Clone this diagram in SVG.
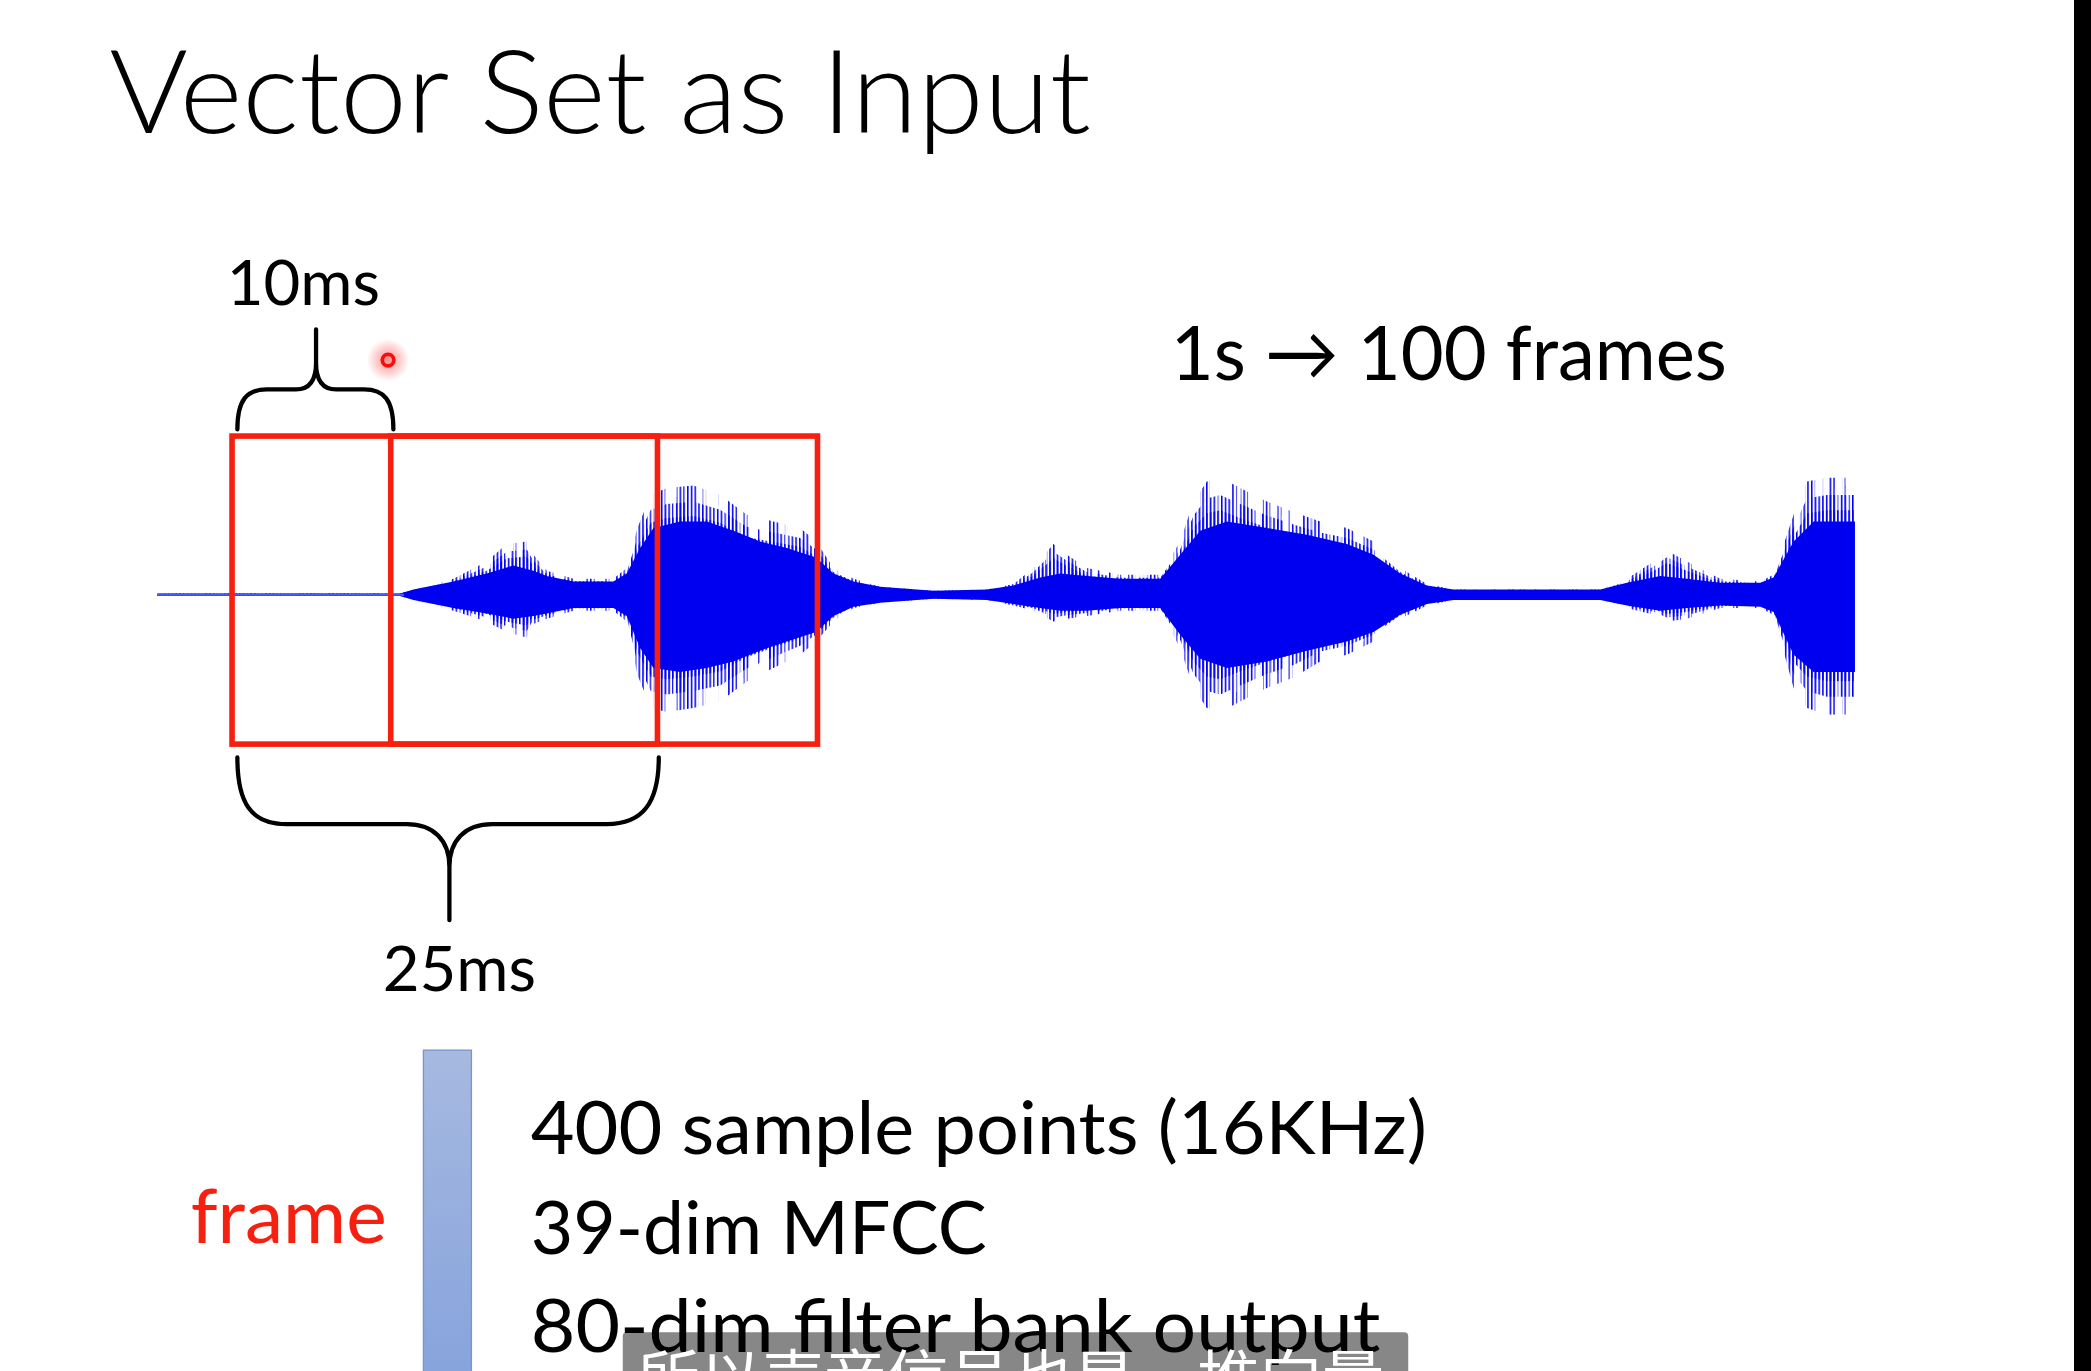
<svg xmlns="http://www.w3.org/2000/svg" width="2091" height="1371" viewBox="0 0 2091 1371">
<defs>
<style>
.t{font-family:Lato,"Liberation Sans",sans-serif;fill:#000}
.title{font-weight:300}
.brace{fill:none;stroke:#000;stroke-width:3.2;stroke-linecap:round;stroke-linejoin:round}
.frm{fill:none;stroke:#f5200f;stroke-width:4.2}
.wv{fill:#0000f0}
.zh{font-family:"Noto Sans CJK SC",sans-serif;fill:#fff}
</style>
<pattern id="spk" patternUnits="userSpaceOnUse" width="2.8" height="10">
<rect x="0" y="0" width="1.15" height="10" fill="#0000f0"/>
</pattern>
<path id="env" d="M118,445 L300,445 310,442 340,434 365,421 380,408 395,406 400,416 410,428 430,434 460,434 470,426 478,396 488,371 500,366 520,364 540,371 560,386 580,391 600,396 612,406 625,426 640,434 660,440 700,443 740,442 760,438 775,426 790,408 800,416 815,426 840,431 870,431 885,406 895,376 905,361 915,358 930,366 950,376 970,384 990,391 1010,396 1030,406 1050,426 1070,438 1090,442 1200,442 1220,434 1240,421 1250,413 1265,421 1290,434 1320,436 1330,431 1345,386 1355,361 1370,358 1391,358 L1391,536 1370,536 1355,531 1345,516 1330,461 1320,456 1290,456 1265,464 1250,466 1240,461 1220,456 1200,450 1090,450 1070,454 1050,464 1030,481 1010,491 990,496 970,508 950,516 930,526 915,534 905,531 895,516 885,486 870,458 840,458 815,462 800,464 790,466 775,458 760,454 740,450 700,449 660,452 640,456 625,466 612,481 600,491 580,501 560,511 540,526 520,531 500,534 488,531 478,506 470,466 460,458 430,458 410,464 400,468 395,478 380,474 365,466 340,458 310,450 300,447 118,447 Z"/>
<clipPath id="c100"><use href="#env"/></clipPath>
<clipPath id="c85"><use href="#env" transform="matrix(1 0 0 0.85 0 66.9)"/></clipPath>
<clipPath id="c72"><use href="#env" transform="matrix(1 0 0 0.72 0 124.9)"/></clipPath>
<filter id="n1" filterUnits="userSpaceOnUse" x="110" y="340" width="1290" height="210" color-interpolation-filters="sRGB">
<feTurbulence type="fractalNoise" baseFrequency="0.13 0.0001" numOctaves="1" seed="3" result="t"/>
<feColorMatrix in="t" type="matrix" values="0 0 0 0 0  0 0 0 0 0  0 0 0 0 0  25 0 0 0 -12.5" result="m"/>
<feComposite in="SourceGraphic" in2="m" operator="in"/>
</filter>
<filter id="n2" filterUnits="userSpaceOnUse" x="110" y="340" width="1290" height="210" color-interpolation-filters="sRGB">
<feTurbulence type="fractalNoise" baseFrequency="0.13 0.0001" numOctaves="1" seed="9" result="t"/>
<feColorMatrix in="t" type="matrix" values="0 0 0 0 0  0 0 0 0 0  0 0 0 0 0  25 0 0 0 -11" result="m"/>
<feComposite in="SourceGraphic" in2="m" operator="in"/>
</filter>
<radialGradient id="glow">
<stop offset="0" stop-color="#ff3030" stop-opacity="0.55"/>
<stop offset="1" stop-color="#ff3030" stop-opacity="0"/>
</radialGradient>
<linearGradient id="bar" x1="0" y1="0" x2="0" y2="1">
<stop offset="0" stop-color="#a6b9e0"/>
<stop offset="1" stop-color="#86a3dc"/>
</linearGradient>
</defs>
<rect width="2091" height="1371" fill="#fff"/>
<g transform="scale(1.33355)">
<g id="title"><text class="t title" x="82" y="100" font-size="88" textLength="736" lengthAdjust="spacingAndGlyphs">Vector Set as Input</text></g>
<g id="waveform">
<g clip-path="url(#c100)"><rect x="118" y="350" width="1274" height="190" fill="url(#spk)" filter="url(#n1)"/></g>
<g clip-path="url(#c85)"><rect x="118" y="350" width="1274" height="190" fill="url(#spk)" filter="url(#n2)"/></g>
<g clip-path="url(#c72)"><rect x="118" y="350" width="1274" height="190" fill="url(#spk)"/></g>
<path class="wv" d="M118,445 L300,445 310,442 340,436 365,430 385,424 400,428 410,432 430,436 460,436 470,430 480,411 490,396 510,391 530,391 550,398 570,406 590,411 612,418 625,430 640,436 660,440 700,443 740,442 760,439 780,433 795,430 815,432 840,434 870,434 885,416 900,398 920,391 950,396 980,401 1010,408 1030,416 1050,430 1070,439 1090,442 1200,442 1220,437 1245,432 1265,434 1290,437 1320,437 1330,433 1345,406 1360,391 1391,391 L1391,504 1360,504 1345,491 1330,459 1320,455 1290,454 1265,456 1245,458 1220,454 1200,450 1090,450 1070,453 1050,461 1030,474 1010,481 980,488 950,496 920,501 900,494 885,476 870,456 840,456 815,458 795,458 780,456 760,453 740,450 700,449 660,452 640,455 625,462 612,474 590,481 570,488 550,496 530,501 510,504 490,501 480,486 470,462 460,456 430,456 410,460 400,462 385,464 365,460 340,456 310,450 300,447 118,447 Z"/>
<rect x="118" y="445.2" width="185" height="1.6" fill="#4a5af5"/>
</g>
<g id="frame-1"><rect class="frm" x="174" y="327" width="319" height="231"/></g>
<g id="frame-2"><rect class="frm" x="293" y="327" width="320" height="231"/></g>
<g id="label-10ms"><text class="t" x="170" y="229" font-size="46" textLength="115" lengthAdjust="spacingAndGlyphs">10ms</text></g>
<g id="label-rate"><text class="t" x="878" y="285" font-size="57" textLength="417" lengthAdjust="spacingAndGlyphs">1s → 100 frames</text></g>
<g id="label-25ms"><text class="t" x="287" y="743" font-size="46" textLength="115" lengthAdjust="spacingAndGlyphs">25ms</text></g>
<g id="pointer">
<circle cx="291" cy="270" r="16" fill="url(#glow)"/>
<circle cx="291" cy="270" r="4.3" fill="none" stroke="#f01010" stroke-width="2.8"/>
</g>
<g id="connectors">
<path class="brace" d="M178,322 C178,300 185,292 200,292 L222,292 C232,292 237,285 237,272 L237,247 M237,272 C237,285 242,292 252,292 L273,292 C288,292 295,300 295,322"/>
<path class="brace" d="M178,568 C178,602 188,618 215,618 L305,618 C325,618 337,630 337,650 L337,690 M337,650 C337,630 349,618 369,618 L455,618 C482,618 494,602 494,568"/>
</g>
<g id="frame-label"><text class="t" x="143" y="932" font-size="56" style="fill:#f5200f" textLength="147" lengthAdjust="spacingAndGlyphs">frame</text></g>
<g id="feature-bar"><rect x="317.5" y="787.5" width="36" height="250" fill="url(#bar)" stroke="#7a94cc" stroke-width="1"/></g>
<g id="features">
<text class="t" x="398" y="865" font-size="55" textLength="672" lengthAdjust="spacingAndGlyphs">400 sample points (16KHz)</text>
<text class="t" x="398" y="940" font-size="55" textLength="342" lengthAdjust="spacingAndGlyphs">39-dim MFCC</text>
<text class="t" x="398" y="1014" font-size="55" textLength="637" lengthAdjust="spacingAndGlyphs">80-dim filter bank output</text>
</g>
<g id="subtitle">
<rect x="467" y="999" width="589" height="40" rx="3" fill="#000" fill-opacity="0.47"/>
<text class="zh" x="478" y="1049" font-size="44" textLength="560" lengthAdjust="spacingAndGlyphs">所以声音信号也是一堆向量</text>
</g>
</g>
<rect x="2074" y="0" width="17" height="1371" fill="#000"/>
</svg>
